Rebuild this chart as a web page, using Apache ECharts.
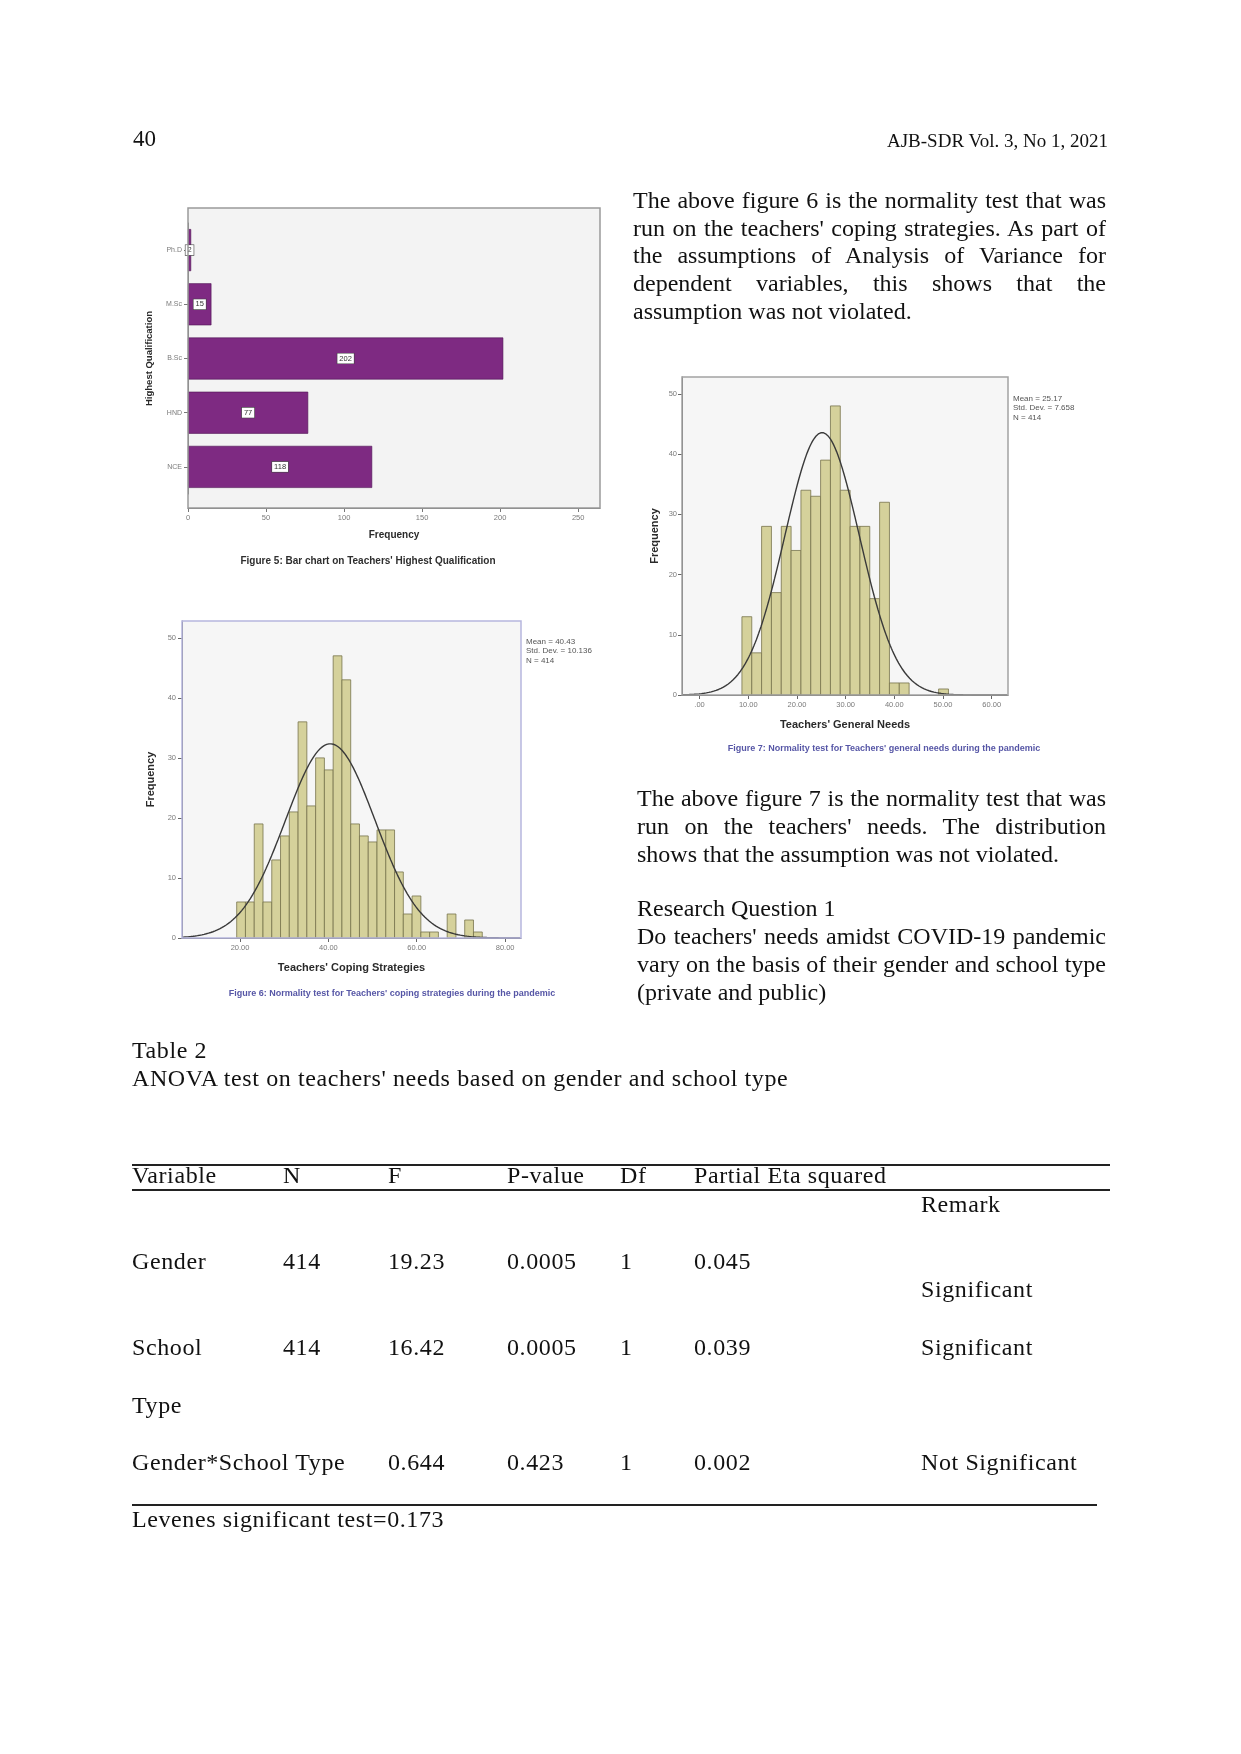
<!DOCTYPE html>
<html>
<head>
<meta charset="utf-8">
<script src="https://cdn.jsdelivr.net/npm/echarts@6/dist/echarts.min.js"></script>
<style>
html,body{margin:0;padding:0;background:#fff;}
#page{position:relative;width:1241px;height:1754px;overflow:hidden;background:#fff;}
#chart{position:absolute;left:0;top:0;width:1241px;height:1754px;}
.t{position:absolute;font-family:'Liberation Serif','Times New Roman',serif;font-size:24px;line-height:28px;color:#111;white-space:nowrap;}
.j{text-align:justify;text-align-last:justify;}
.tb{letter-spacing:0.6px;}
.rule{position:absolute;background:#222;height:2px;}
</style>
</head>
<body>
<div id="page">
  <div id="chart"></div>

  <div class="t" style="left:133px;top:125px;font-size:23px;">40</div>
  <div class="t" style="right:133px;top:127px;font-size:19px;">AJB-SDR Vol. 3, No 1, 2021</div>

  <div class="t j" style="left:633px;top:186px;width:473px;">The above figure 6 is the normality test that was</div>
  <div class="t j" style="left:633px;top:214px;width:473px;">run on the teachers' coping strategies. As part of</div>
  <div class="t j" style="left:633px;top:241px;width:473px;">the assumptions of Analysis of Variance for</div>
  <div class="t j" style="left:633px;top:269px;width:473px;">dependent variables, this shows that the</div>
  <div class="t" style="left:633px;top:297px;">assumption was not violated.</div>

  <div class="t j" style="left:637px;top:784px;width:469px;">The above figure 7 is the normality test that was</div>
  <div class="t j" style="left:637px;top:812px;width:469px;">run on the teachers' needs. The distribution</div>
  <div class="t" style="left:637px;top:840px;">shows that the assumption was not violated.</div>
  <div class="t" style="left:637px;top:894px;">Research Question 1</div>
  <div class="t j" style="left:637px;top:922px;width:469px;">Do teachers' needs amidst COVID-19 pandemic</div>
  <div class="t j" style="left:637px;top:950px;width:469px;">vary on the basis of their gender and school type</div>
  <div class="t" style="left:637px;top:978px;">(private and public)</div>

  <div class="t tb" style="left:132px;top:1036px;">Table 2</div>
  <div class="t tb" style="left:132px;top:1064px;">ANOVA test on teachers' needs based on gender and school type</div>

  <div class="rule" style="left:132px;top:1164px;width:978px;"></div>
  <div class="t tb" style="left:132px;top:1161px;">Variable</div>
  <div class="t tb" style="left:283px;top:1161px;">N</div>
  <div class="t tb" style="left:388px;top:1161px;">F</div>
  <div class="t tb" style="left:507px;top:1161px;">P-value</div>
  <div class="t tb" style="left:620px;top:1161px;">Df</div>
  <div class="t tb" style="left:694px;top:1161px;">Partial Eta squared</div>
  <div class="rule" style="left:132px;top:1189px;width:978px;"></div>
  <div class="t tb" style="left:921px;top:1190px;">Remark</div>

  <div class="t tb" style="left:132px;top:1247px;">Gender</div>
  <div class="t tb" style="left:283px;top:1247px;">414</div>
  <div class="t tb" style="left:388px;top:1247px;">19.23</div>
  <div class="t tb" style="left:507px;top:1247px;">0.0005</div>
  <div class="t tb" style="left:620px;top:1247px;">1</div>
  <div class="t tb" style="left:694px;top:1247px;">0.045</div>
  <div class="t tb" style="left:921px;top:1275px;">Significant</div>

  <div class="t tb" style="left:132px;top:1333px;">School</div>
  <div class="t tb" style="left:283px;top:1333px;">414</div>
  <div class="t tb" style="left:388px;top:1333px;">16.42</div>
  <div class="t tb" style="left:507px;top:1333px;">0.0005</div>
  <div class="t tb" style="left:620px;top:1333px;">1</div>
  <div class="t tb" style="left:694px;top:1333px;">0.039</div>
  <div class="t tb" style="left:921px;top:1333px;">Significant</div>
  <div class="t tb" style="left:132px;top:1391px;">Type</div>

  <div class="t tb" style="left:132px;top:1448px;">Gender*School Type</div>
  <div class="t tb" style="left:388px;top:1448px;">0.644</div>
  <div class="t tb" style="left:507px;top:1448px;">0.423</div>
  <div class="t tb" style="left:620px;top:1448px;">1</div>
  <div class="t tb" style="left:694px;top:1448px;">0.002</div>
  <div class="t tb" style="left:921px;top:1448px;">Not Significant</div>

  <div class="rule" style="left:132px;top:1504px;width:965px;"></div>
  <div class="t tb" style="left:132px;top:1505px;">Levenes significant test=0.173</div>
</div>

<script>
// ---------- data ----------
const qualCategories = ['Ph.D', 'M.Sc', 'B.Sc', 'HND', 'NCE'];
const qualCounts = [2, 15, 202, 77, 118];
const qualTicks = [0, 50, 100, 150, 200, 250];

const copingCounts = [6, 6, 19, 6, 13, 17, 21, 36, 22, 30, 28, 47, 43, 19, 17, 16, 18, 18, 11, 4, 7, 1, 1, 0, 4, 0, 3, 1];
const copingBinStart = 19.25;
const copingBinWidth = 1.985;
const copingStats = { mean: 40.43, sd: 10.136, n: 414 };
const copingTicks = [20, 40, 60, 80];

const needsCounts = [13, 7, 28, 17, 28, 24, 34, 33, 39, 48, 34, 28, 28, 16, 32, 2, 2, 0, 0, 0, 1];
const needsBinStart = 8.7;
const needsBinWidth = 2.02;
const needsStats = { mean: 25.17, sd: 7.658, n: 414 };
const needsTicks = [0, 10, 20, 30, 40, 50, 60];

const freqTicks = [0, 10, 20, 30, 40, 50];

// ---------- helpers ----------
const SANS = "'Liberation Sans', Arial, sans-serif";

function binRows(counts, start, width) {
  return counts.map((c, i) => [start + i * width, start + (i + 1) * width, c]);
}
function normalCurve(stats, width, lo, hi, step) {
  const k = stats.n * width / (stats.sd * Math.sqrt(2 * Math.PI));
  const pts = [];
  for (let x = lo; x <= hi + 1e-9; x += step) {
    const z = (x - stats.mean) / stats.sd;
    pts.push([x, k * Math.exp(-0.5 * z * z)]);
  }
  return pts;
}
function histSeries(idx, counts, start, width) {
  return {
    type: 'custom', xAxisIndex: idx, yAxisIndex: idx,
    data: binRows(counts, start, width),
    encode: { x: [0, 1], y: 2 },
    renderItem: function (params, api) {
      const c = api.value(2);
      if (!c) return null;
      const p0 = api.coord([api.value(0), c]);
      const p1 = api.coord([api.value(1), 0]);
      return {
        type: 'rect',
        shape: { x: p0[0], y: p0[1], width: p1[0] - p0[0], height: p1[1] - p0[1] },
        style: { fill: '#D5D19B', stroke: '#77734c', lineWidth: 0.8 }
      };
    }
  };
}
function curveSeries(idx, stats, width, lo, hi) {
  return {
    type: 'line', xAxisIndex: idx, yAxisIndex: idx, showSymbol: false, symbol: 'none',
    data: normalCurve(stats, width, lo, hi, 0.25),
    lineStyle: { color: '#3a3a3a', width: 1.4 }, z: 5
  };
}
function valueX(idx, min, max, ticks, fmt, name, gap) {
  return {
    gridIndex: idx, type: 'value', min: min, max: max,
    axisLine: { show: true, onZero: false, lineStyle: { color: '#666', width: 1 } },
    axisTick: { show: true, customValues: ticks, length: 4, lineStyle: { color: '#666' } },
    axisLabel: { customValues: ticks, formatter: fmt, fontSize: 7.5, color: '#7a7a7a', margin: 6, fontFamily: SANS },
    splitLine: { show: false },
    name: name, nameLocation: 'middle', nameGap: gap,
    nameTextStyle: { fontWeight: 'bold', fontSize: 11, color: '#2a2a2a', fontFamily: SANS }
  };
}
function valueY(idx, max, gap, margin) {
  return {
    gridIndex: idx, type: 'value', min: 0, max: max,
    axisLine: { show: true, onZero: false, lineStyle: { color: '#666', width: 1 } },
    axisTick: { show: true, customValues: freqTicks, length: 4, lineStyle: { color: '#666' } },
    axisLabel: { customValues: freqTicks, fontSize: 7.5, color: '#7a7a7a', margin: margin, fontFamily: SANS },
    splitLine: { show: false },
    name: 'Frequency', nameLocation: 'middle', nameGap: gap,
    nameTextStyle: { fontWeight: 'bold', fontSize: 11, color: '#2a2a2a', fontFamily: SANS }
  };
}
function boxFill(x, y, w, h, fill) {
  return { type: 'rect', z: -10, shape: { x: x, y: y, width: w, height: h }, style: { fill: fill, stroke: 'none' } };
}
function boxLine(x, y, w, h, stroke) {
  return { type: 'rect', z: 20, shape: { x: x, y: y, width: w, height: h }, style: { fill: 'none', stroke: stroke, lineWidth: 1.5 } };
}
function txt(x, y, text, font, fill, align, vAlign, lh) {
  return {
    type: 'text', z: 30, x: x, y: y,
    style: { text: text, font: font, fill: fill, align: align, verticalAlign: vAlign,
             textAlign: align, textVerticalAlign: vAlign, lineHeight: lh || undefined }
  };
}

// ---------- chart ----------
const chart = echarts.init(document.getElementById('chart'), null, { renderer: 'canvas' });

const fmt2 = v => v.toFixed(2);
const fmtNeeds = v => (v === 0 ? '.00' : v.toFixed(2));

const option = {
  animation: false,
  backgroundColor: 'transparent',
  textStyle: { fontFamily: SANS },
  grid: [
    { left: 188, top: 223, width: 412, height: 271 },
    { left: 182, top: 621, width: 339, height: 317 },
    { left: 682, top: 377, width: 326, height: 318 }
  ],
  xAxis: [
    {
      gridIndex: 0, type: 'value', min: 0, max: 264, offset: 14,
      axisLine: { show: true, onZero: false, lineStyle: { color: '#777' } },
      axisTick: { show: true, customValues: qualTicks, length: 4, lineStyle: { color: '#777' } },
      axisLabel: { customValues: qualTicks, fontSize: 7.5, color: '#7a7a7a', margin: 6, fontFamily: SANS },
      splitLine: { show: false },
      name: 'Frequency', nameLocation: 'middle', nameGap: 22,
      nameTextStyle: { fontWeight: 'bold', fontSize: 10, color: '#2a2a2a', fontFamily: SANS }
    },
    valueX(1, 6.87, 83.6, copingTicks, fmt2, "Teachers' Coping Strategies", 24),
    valueX(2, -3.61, 63.35, needsTicks, fmtNeeds, "Teachers' General Needs", 24)
  ],
  yAxis: [
    {
      gridIndex: 0, type: 'category', inverse: true, data: qualCategories,
      axisLine: { show: true, onZero: false, lineStyle: { color: '#777' } },
      axisTick: { show: true, alignWithLabel: true, length: 4, lineStyle: { color: '#777' } },
      axisLabel: { fontSize: 7, color: '#7a7a7a', margin: 6, fontFamily: SANS },
      name: 'Highest Qualification', nameLocation: 'middle', nameGap: 34,
      nameTextStyle: { fontWeight: 'bold', fontSize: 9.5, color: '#2a2a2a', fontFamily: SANS }
    },
    valueY(1, 52.8, 26, 6),
    valueY(2, 52.8, 22, 5)
  ],
  series: [
    {
      type: 'bar', xAxisIndex: 0, yAxisIndex: 0, data: qualCounts, barWidth: 42,
      itemStyle: { color: '#7E2A82', borderColor: '#4d1152', borderWidth: 0.6 },
      label: {
        show: true, position: 'inside', formatter: '{c}', fontSize: 7.5, color: '#333',
        backgroundColor: '#fff', borderColor: '#444', borderWidth: 0.6, padding: [1, 2], fontFamily: SANS
      }
    },
    histSeries(1, copingCounts, copingBinStart, copingBinWidth),
    curveSeries(1, copingStats, copingBinWidth, 6.87, 83.6),
    histSeries(2, needsCounts, needsBinStart, needsBinWidth),
    curveSeries(2, needsStats, needsBinWidth, -3.61, 63.35)
  ],
  graphic: [
    boxFill(188, 208, 412, 300, '#F3F3F3'),
    boxLine(188, 208, 412, 300, '#9a9a9a'),
    boxFill(182, 621, 339, 317, '#F6F6F6'),
    boxLine(182, 621, 339, 317, '#B6B6DE'),
    boxFill(682, 377, 326, 318, '#F6F6F6'),
    boxLine(682, 377, 326, 318, '#A2A2A2'),
    txt(368, 561, "Figure 5: Bar chart on Teachers' Highest Qualification", 'bold 10px ' + SANS, '#2e2e2e', 'center', 'middle'),
    txt(392, 994, "Figure 6: Normality test for Teachers' coping strategies during the pandemic", 'bold 9px ' + SANS, '#5656a6', 'center', 'middle'),
    txt(884, 749, "Figure 7: Normality test for Teachers' general needs during the pandemic", 'bold 9px ' + SANS, '#5656a6', 'center', 'middle'),
    txt(526, 637, 'Mean = ' + copingStats.mean.toFixed(2) + '\nStd. Dev. = ' + copingStats.sd.toFixed(3) + '\nN = ' + copingStats.n, '8px ' + SANS, '#555', 'left', 'top', 9.5),
    txt(1013, 394, 'Mean = ' + needsStats.mean.toFixed(2) + '\nStd. Dev. = ' + needsStats.sd.toFixed(3) + '\nN = ' + needsStats.n, '8px ' + SANS, '#555', 'left', 'top', 9.5)
  ]
};
chart.setOption(option);
</script>
</body>
</html>
